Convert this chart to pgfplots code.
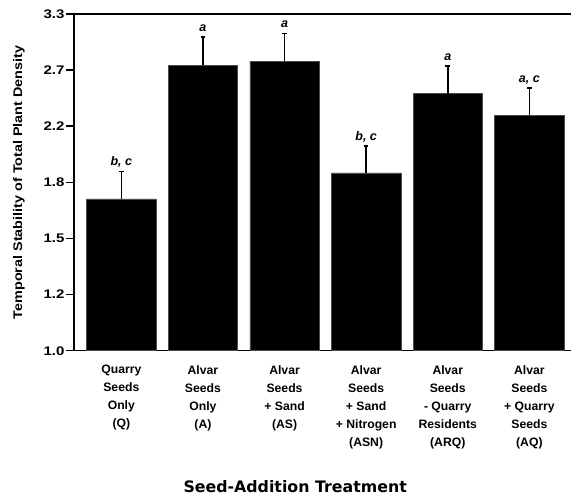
\documentclass[border=0pt]{standalone}
\usepackage{pgfplots}
\pgfplotsset{compat=1.18}
\usepackage{fontspec}
\setmainfont{Liberation Sans}
\newfontfamily\xlabfont{DejaVu Sans}
\newfontfamily\wideA[FakeStretch=1.2]{Liberation Sans}
\newfontfamily\wideB[FakeStretch=1.15]{Liberation Sans}
\begin{document}
\begin{tikzpicture}
\begin{axis}[
  scale only axis, width=497pt, height=336.7pt,
  at={(0,0)}, anchor=south west,
  xmin=-0.58, xmax=5.51, ymin=0, ymax=1.2,
  axis y line*=left,
  axis line style={line width=1.5pt, black},
  xtick={0,1,2,3,4,5},
  xticklabels={{Quarry\\Seeds\\Only\\(Q)},{Alvar\\Seeds\\Only\\(A)},{Alvar\\Seeds\\+ Sand\\(AS)},{Alvar\\Seeds\\+ Sand\\+ Nitrogen\\(ASN)},{Alvar\\Seeds\\- Quarry\\Residents\\(ARQ)},{Alvar\\Seeds\\+ Quarry\\Seeds\\(AQ)}},
  x tick label style={font=\bfseries\fontsize{12.2}{18}\selectfont, align=center, anchor=north, yshift=-3pt},
  x tick style={draw=none},
  ytick={0,0.2,0.4,0.6,0.8,1.0,1.2},
  yticklabels={1.0,1.2,1.5,1.8,2.2,2.7,3.3},
  y tick label style={font=\wideA\bfseries\fontsize{12.5}{12}\selectfont, xshift=2pt},
  tick align=outside,
  major tick length=8pt,
  y tick style={line width=1.5pt, black},
  ylabel={Temporal Stability of Total Plant Density},
  ylabel style={font=\wideB\bfseries\fontsize{12.5}{12}\selectfont, at={(axis description cs:-0.111,0.5)}, anchor=center},
  xlabel={Seed-Addition Treatment},
  xlabel style={font=\xlabfont\bfseries\fontsize{15.8}{16}\selectfont, at={(axis description cs:0.445,-0.405)}, anchor=center},
  clip=false,
]
\addplot[ybar, bar width=69.5pt, fill=black, draw=black!70, line width=0.6pt,
  error bars/.cd, y dir=plus, y explicit,
  error mark=|,
  error bar style={line width=1.5pt, black, solid},
  error mark options={line width=1.6pt, mark size=2.3pt, black, solid}]
  coordinates {
  (0,0.541) +- (0,0.098)
  (1,1.017) +- (0,0.101)
  (2,1.032) +- (0,0.099)
  (3,0.634) +- (0,0.095)
  (4,0.916) +- (0,0.098)
  (5,0.839) +- (0,0.097)
  };
\addplot[draw=none, mark=none, point meta=explicit symbolic,
  nodes near coords,
  nodes near coords style={anchor=base, yshift=6pt, font=\bfseries\itshape\fontsize{12.5}{12}\selectfont, text=black}]
  coordinates {
  (0,0.639) [b, c]
  (1,1.118) [a]
  (2,1.131) [a]
  (3,0.729) [b, c]
  (4,1.014) [a]
  (5,0.936) [a, c]
  };
\end{axis}
\pgfresetboundingbox
\path (-74pt,-149.3pt) rectangle (497pt,350.7pt);
\end{tikzpicture}
\end{document}
